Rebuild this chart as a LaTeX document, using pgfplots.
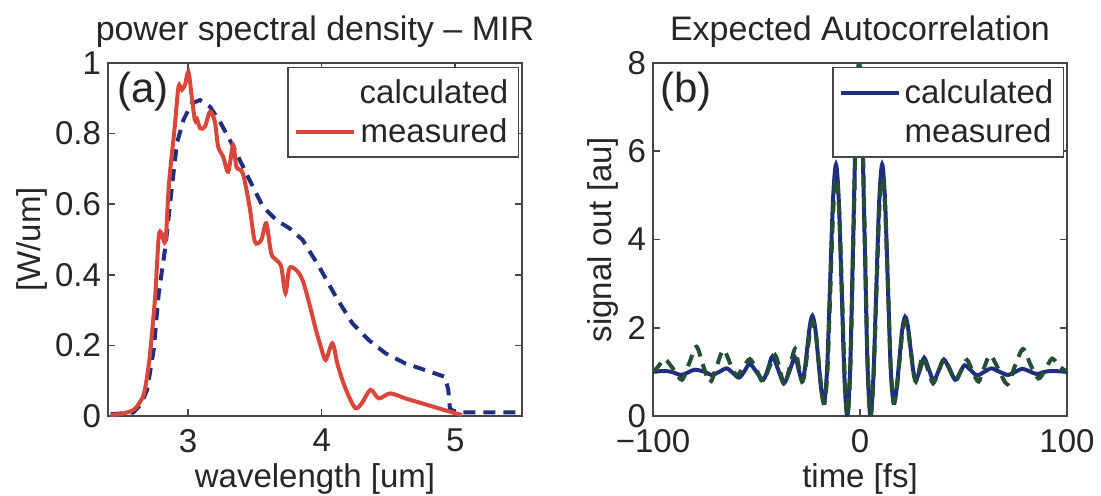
\documentclass[border=0pt]{standalone}
\usepackage{fontspec}
\setmainfont{Liberation Sans}
\usepackage{pgfplots}
\pgfplotsset{compat=1.18}

\definecolor{measred}{RGB}{218,70,58}
\definecolor{calcblue}{RGB}{32,46,128}
\definecolor{measgreen}{RGB}{38,78,52}
\definecolor{axgray}{RGB}{70,70,70}

\pgfplotsset{
  panel/.style={
    scale only axis, width=207pt, height=176.5pt,
    axis line style={axgray, line width=0.8pt},
    every tick/.style={axgray, line width=0.8pt},
    major tick length=3.5pt, tick align=inside,
    /pgf/number format/assume math mode=true,
    tick label style={font=\fontsize{16.5}{18}\selectfont, text=black!85},
    x tick label style={yshift=-3pt},
    label style={font=\fontsize{16.5}{18}\selectfont, text=black!85},
    xlabel style={yshift=1.5pt},
    title style={font=\fontsize{17}{20}\selectfont, text=black!85, yshift=-2pt},
    legend style={font=\fontsize{16.5}{18}\selectfont, text=black!85,
      draw=axgray, line width=0.8pt, at={(0.993,0.99)}, anchor=north east,
      inner ysep=4pt, row sep=2pt},
    legend image code/.code={\draw[##1] (0pt,0pt) -- (29pt,0pt);},
  },
}

\begin{document}
\begin{tikzpicture}

% (a) power spectral density
\begin{axis}[panel,
  xmin=2.4, xmax=5.5, ymin=0, ymax=1,
  xtick={3,4,5}, ytick={0,0.2,0.4,0.6,0.8,1},
  title={power spectral density -- MIR},
  xlabel={wavelength [um]}, ylabel={[W/um]},
  ylabel style={yshift=-3pt},
]
\addplot[calcblue, line width=2pt, dash pattern=on 6pt off 4pt, forget plot] coordinates {
(2.42,0.005) (2.59,0.01) (2.65,0.035) (2.693,0.074) (2.742,0.187) (2.78,0.348)
(2.83,0.48) (2.879,0.65) (2.916,0.773) (2.965,0.839) (3.027,0.886) (3.089,0.895)
(3.164,0.876) (3.238,0.834) (3.325,0.773) (3.436,0.687) (3.56,0.593) (3.66,0.555)
(3.758,0.532) (3.857,0.499) (3.981,0.423) (4.106,0.338) (4.229,0.263) (4.353,0.215)
(4.477,0.178) (4.626,0.149) (4.775,0.13) (4.923,0.111) (4.948,0.074) (4.96,0.022)
(5.0,0.01) (5.5,0.01)
};
\addlegendimage{empty legend}
\addlegendentry{calculated}
\addplot[measred, line width=2pt, smooth] coordinates {
(2.42,0.003) (2.5,0.006) (2.59,0.017) (2.64,0.04) (2.67,0.064) (2.70,0.13)
(2.72,0.196) (2.74,0.28) (2.755,0.348) (2.78,0.508) (2.80,0.518) (2.83,0.494)
(2.85,0.62) (2.866,0.697) (2.90,0.82) (2.928,0.933) (2.953,0.924) (2.978,0.94)
(3.002,0.975) (3.027,0.905) (3.05,0.839) (3.065,0.843) (3.09,0.815) (3.126,0.82)
(3.164,0.862) (3.20,0.834) (3.225,0.763) (3.262,0.735) (3.30,0.692) (3.337,0.768)
(3.362,0.706) (3.41,0.687) (3.46,0.593) (3.50,0.494) (3.548,0.499) (3.585,0.546)
(3.622,0.461) (3.66,0.442) (3.697,0.423) (3.729,0.348) (3.758,0.418) (3.808,0.414)
(3.857,0.385) (3.907,0.319) (3.957,0.244) (3.994,0.196) (4.03,0.159) (4.08,0.206)
(4.117,0.149) (4.155,0.102) (4.204,0.055) (4.254,0.022) (4.30,0.036) (4.366,0.074)
(4.428,0.05) (4.514,0.064) (4.626,0.05) (4.75,0.036) (4.874,0.022) (4.998,0.008)
(5.05,0.003)
};
\addlegendentry{measured}
\node[font=\fontsize{21}{24}\selectfont, text=black!85] at (rel axis cs:0.085,0.918) {(a)};
\end{axis}

% (b) autocorrelation
\begin{axis}[panel, at={(272.5pt,0pt)},
  xmin=-100, xmax=100, ymin=0, ymax=8,
  xtick={-100,0,100}, xticklabels={−100,0,100}, ytick={0,2,4,6,8},
  title={Expected Autocorrelation},
  xlabel={time [fs]}, ylabel={signal out [au]},
  ylabel style={yshift=-2pt},
  legend cell align=left,
]
\addplot[calcblue, line width=2pt, smooth] coordinates {
(-100,1.0) (-95,1.02) (-91,1.0) (-86.5,0.93) (-83,0.99) (-79.8,1.05) (-75,1.0)
(-71.8,0.93) (-68,1.0) (-64.5,1.08) (-61.5,0.98) (-58.5,0.87) (-56,1.0) (-53.3,1.18)
(-50,1.0) (-46.8,0.82) (-44.5,1.06) (-42.3,1.35) (-39.5,1.05) (-36.8,0.74) (-34,1.03)
(-31.4,1.33) (-29.7,1.06) (-28.0,0.8) (-26.75,1.03) (-25.5,1.535) (-24.25,2.04)
(-23.0,2.27) (-21.6,1.98) (-20.15,1.285) (-18.7,0.59) (-17.3,0.3) (-15.875,1.09)
(-14.45,3.0) (-13.025,4.91) (-11.6,5.7) (-10.225,4.87) (-8.85,2.85) (-7.475,0.835)
(-6.1,0.0) (-4.7,1.17) (-3.3,4.0) (-1.9,6.83) (-0.5,8.0) (0.875,6.83) (2.25,4.0)
(3.625,1.17) (5.0,0.0) (6.425,0.835) (7.85,2.85) (9.275,4.87) (10.7,5.7) (12.075,4.91)
(13.45,3.0) (14.825,1.09) (16.2,0.3) (17.6,0.59) (19.0,1.275) (20.4,1.96) (21.8,2.25)
(23.1,2.04) (24.4,1.535) (25.7,1.03) (27.0,0.82) (29,1.05) (31.0,1.32) (33.3,1.05)
(35.6,0.8) (38,1.03) (40.5,1.28) (43.3,1.05) (46.0,0.82) (48.3,0.98) (50.5,1.15)
(53.5,1.04) (56.5,0.92) (60,1.0) (63.5,1.08) (67.5,1.0) (71.5,0.93) (75,1.0)
(78.5,1.07) (82,1.01) (85.5,0.95) (89,1.0) (93,1.02) (100,1.0)
};
\addlegendentry{calculated}
\addlegendimage{empty legend}
\addlegendentry{measured}
\addplot[measgreen, line width=2pt, smooth, dash pattern=on 6pt off 4pt, forget plot] coordinates {
(-100,1.0) (-97.5,1.12) (-94.3,1.29) (-90,1.05) (-86,0.82) (-82.5,1.2) (-79,1.57)
(-75.8,1.15) (-72.5,0.76) (-69.3,1.12) (-66,1.5) (-62.8,1.2) (-59.6,0.92) (-56.4,1.1)
(-53.2,1.29) (-50,1.05) (-47,0.78) (-44,1.08) (-41,1.38) (-38.7,1.05) (-36.5,0.7)
(-34,1.1) (-31.4,1.52) (-29.7,1.15) (-28,0.78) (-26.6,1.0) (-25.3,1.5) (-24.0,1.95)
(-22.8,2.15) (-21.4,1.9) (-20.0,1.25) (-18.6,0.6) (-17.1,0.3) (-15.7,1.05)
(-14.3,2.9) (-12.9,4.7) (-11.5,5.4) (-10.1,4.7) (-8.7,2.8) (-7.35,0.85)
(-6.0,0.0) (-4.6,1.17) (-3.2,4.0) (-1.8,6.8) (-0.4,8.0) (1.0,6.8) (2.35,4.0)
(3.7,1.17) (5.1,0.0) (6.5,0.85) (7.95,2.8) (9.35,4.7) (10.8,5.4) (12.15,4.7)
(13.55,2.9) (14.9,1.05) (16.3,0.3) (17.7,0.6) (19.1,1.25) (20.5,1.9) (21.9,2.15)
(23.2,1.95) (24.5,1.5) (25.8,1.0) (27.0,0.78) (28.6,1.05) (30.3,1.36) (32.8,1.05)
(35.3,0.74) (38,1.02) (40.8,1.3) (43.5,1.05) (46.2,0.8) (49,1.05) (51.7,1.27)
(54.5,1.0) (57.3,0.78) (60,1.1) (62.9,1.38) (67,1.05) (71.2,0.72) (75,1.15)
(78.8,1.52) (82.5,1.15) (86.2,0.85) (89.5,1.05) (92.8,1.3) (96.5,1.12) (100,1.0)
};
\node[font=\fontsize{21}{24}\selectfont, text=black!85] at (rel axis cs:0.08,0.918) {(b)};
\end{axis}

\pgfresetboundingbox
\path[use as bounding box] (-54pt,-39.5pt) rectangle (496.5pt,208pt);
\end{tikzpicture}
\end{document}
